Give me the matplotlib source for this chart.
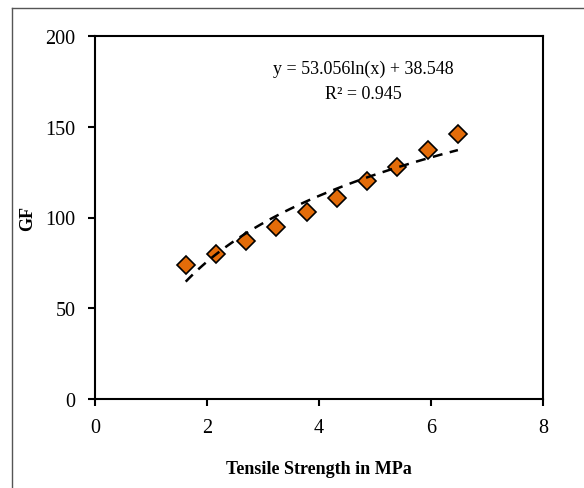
import numpy as np
import matplotlib
matplotlib.use('agg')
import matplotlib.pyplot as plt
from matplotlib.lines import Line2D

# tensile strength (MPa) vs GF
strength = [1.62, 2.16, 2.70, 3.24, 3.78, 4.32, 4.86, 5.40, 5.94, 6.48]
gf = [74, 80, 87, 95, 103, 111, 120, 128, 137, 146]
eqn_text = 'y = 53.056ln(x) + 38.548\nR² = 0.945'

plt.rcParams['font.family'] = ['Liberation Serif', 'DejaVu Serif']

fig = plt.figure(figsize=(5.84, 4.89), dpi=100)
ax = fig.add_axes([95/584, 89/489, 448/584, 363/489])

# log trendline fitted from the points, like excel does
b, a = np.polyfit(np.log(strength), gf, 1)
xs = np.linspace(min(strength), max(strength), 100)
ax.plot(strength, gf, linestyle='none', marker='D', markersize=9,
        markerfacecolor='#E36C09', markeredgecolor='black', markeredgewidth=1.2, zorder=3)
ax.plot(xs, b*np.log(xs) + a, color='black', linestyle=(0, (4, 3)), linewidth=1.8, zorder=4)

ax.set_xlim(0, 8)
ax.set_ylim(0, 200)
ax.set_xticks([0, 2, 4, 6, 8])
ax.set_yticks([0, 50, 100, 150, 200])
ax.tick_params(direction='out', length=5, width=1.5, labelsize=14.5, pad=9)
for s in ax.spines.values():
    s.set_linewidth(1.5)

ax.set_xlabel('Tensile Strength in MPa', fontsize=13, fontweight='bold', labelpad=16)
ax.set_ylabel('GF', fontsize=13, fontweight='bold', labelpad=7)

ax.text(0.6, 0.935, eqn_text, transform=ax.transAxes, ha='center', va='top',
        fontsize=13, linespacing=1.6)

# outer frame (only left and top edges visible)
fig.add_artist(Line2D([12/584, 12/584], [0, 1 - 9/489], color='#555555', linewidth=1))
fig.add_artist(Line2D([12/584, 1], [1 - 9/489, 1 - 9/489], color='#555555', linewidth=1))

plt.savefig('out.png', dpi=100)
plt.close()
